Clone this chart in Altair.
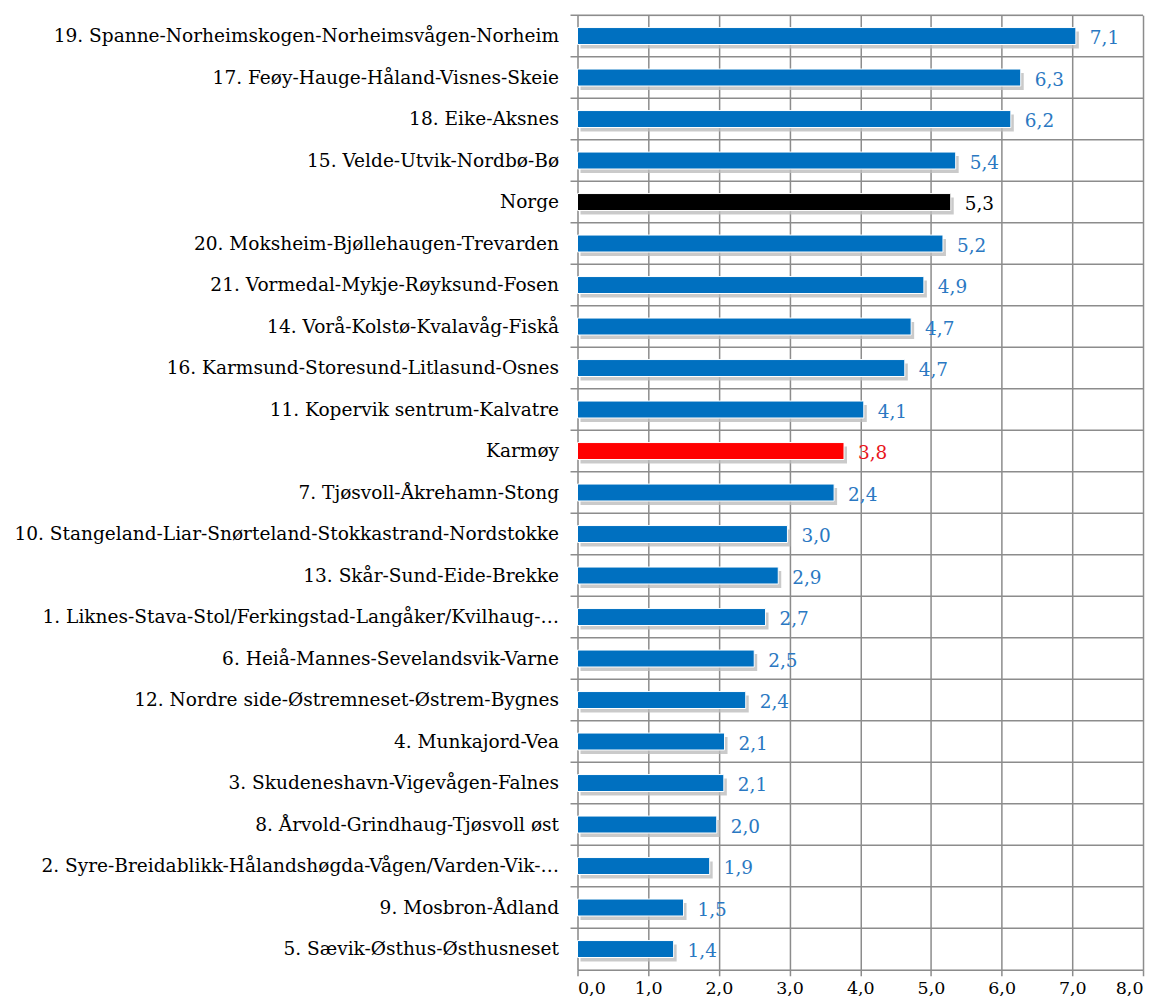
import altair as alt
import pandas as pd

categories = [
    "19. Spanne-Norheimskogen-Norheimsvågen-Norheim",
    "17. Feøy-Hauge-Håland-Visnes-Skeie",
    "18. Eike-Aksnes",
    "15. Velde-Utvik-Nordbø-Bø",
    "Norge",
    "20. Moksheim-Bjøllehaugen-Trevarden",
    "21. Vormedal-Mykje-Røyksund-Fosen",
    "14. Vorå-Kolstø-Kvalavåg-Fiskå",
    "16. Karmsund-Storesund-Litlasund-Osnes",
    "11. Kopervik sentrum-Kalvatre",
    "Karmøy",
    "7. Tjøsvoll-Åkrehamn-Stong",
    "10. Stangeland-Liar-Snørteland-Stokkastrand-Nordstokke",
    "13. Skår-Sund-Eide-Brekke",
    "1. Liknes-Stava-Stol/Ferkingstad-Langåker/Kvilhaug-…",
    "6. Heiå-Mannes-Sevelandsvik-Varne",
    "12. Nordre side-Østremneset-Østrem-Bygnes",
    "4. Munkajord-Vea",
    "3. Skudeneshavn-Vigevågen-Falnes",
    "8. Årvold-Grindhaug-Tjøsvoll øst",
    "2. Syre-Breidablikk-Hålandshøgda-Vågen/Varden-Vik-…",
    "9. Mosbron-Ådland",
    "5. Sævik-Østhus-Østhusneset",
]
values = [7.05, 6.27, 6.13, 5.35, 5.28, 5.17, 4.9, 4.72, 4.63, 4.05,
          3.77, 3.63, 2.97, 2.84, 2.66, 2.5, 2.38, 2.08, 2.07, 1.97,
          1.87, 1.5, 1.36]
labels = ["7,1", "6,3", "6,2", "5,4", "5,3", "5,2", "4,9", "4,7", "4,7", "4,1",
          "3,8", "2,4", "3,0", "2,9", "2,7", "2,5", "2,4", "2,1", "2,1", "2,0",
          "1,9", "1,5", "1,4"]
kinds = ["omr"] * 4 + ["norge"] + ["omr"] * 5 + ["karmoy"] + ["omr"] * 12

bar_colors = {"omr": "#0070C0", "norge": "#000000", "karmoy": "#FF0000"}
text_colors = {"omr": "#2A78C2", "norge": "#000000", "karmoy": "#E8141B"}

df = pd.DataFrame({
    "cat": categories,
    "val": values,
    "lab": labels,
    "bar_color": [bar_colors[k] for k in kinds],
    "text_color": [text_colors[k] for k in kinds],
})

W, H = 567, 957
FONT = "DejaVu Serif"

yenc = alt.Y("cat:N", sort=categories,
             scale=alt.Scale(paddingInner=0, paddingOuter=0),
             axis=alt.Axis(title=None, domain=False, ticks=False, grid=False,
                           labelFont=FONT, labelFontSize=18.6, labelColor="#000000",
                           labelPadding=19, labelLimit=700))
xscale = alt.Scale(domain=[0, 8], nice=False)
xenc = alt.X("val:Q", scale=xscale,
             axis=alt.Axis(title=None, values=[0, 1, 2, 3, 4, 5, 6, 7, 8],
                           labelExpr="replace(format(datum.value, '.1f'), '.', ',')",
                           labelFont=FONT, labelFontSize=17.5, labelColor="#000000",
                           labelPadding=4, grid=True, gridColor="#8c8c8c", gridWidth=1.5,
                           domainColor="#8c8c8c", domainWidth=1.5,
                           tickColor="#8c8c8c", tickWidth=1.5, tickSize=6))

base = alt.Chart(df)

hlines = base.mark_rule(color="#8c8c8c", strokeWidth=1.5).encode(
    y=alt.Y("cat:N", sort=categories, bandPosition=0),
    x=alt.value(-7),
    x2=alt.value(W),
)

shadow = base.mark_bar(color="#bdbdbd", opacity=0.8, height=17,
                       yOffset=4, xOffset=3, x2Offset=3).encode(
    y=yenc, x=xenc,
)

bars = base.mark_bar(height=17, stroke="#ffffff", strokeWidth=1).encode(
    y=yenc, x=xenc,
    color=alt.Color("bar_color:N", scale=None),
)

texts = base.mark_text(align="left", baseline="middle", dx=14, dy=2,
                       font=FONT, fontSize=18.5).encode(
    y=yenc, x=xenc,
    text="lab:N",
    color=alt.Color("text_color:N", scale=None),
)

chart = alt.layer(hlines, shadow, bars, texts).properties(
    width=W, height=H
).configure_view(stroke=None).configure(background="#ffffff")

chart.save("out.html", embed_options={"renderer": "svg", "actions": False})
